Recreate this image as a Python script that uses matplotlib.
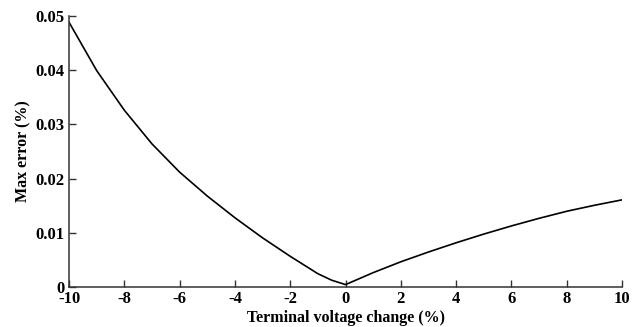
import numpy as np
import matplotlib
matplotlib.use("Agg")
import matplotlib.pyplot as plt

# values
voltage_change = [-10, -9, -8, -7, -6, -5, -4, -3, -2, -1, -0.5, 0, 1, 2, 3, 4, 5, 6, 7, 8, 9, 10]
max_error = [0.0488, 0.0399, 0.0326, 0.0264, 0.0212, 0.0168, 0.0128, 0.0091, 0.0057, 0.0025, 0.0013, 0.0005,
             0.0027, 0.0047, 0.0065, 0.0082, 0.0098, 0.0113, 0.0127, 0.0140, 0.0151, 0.0161]
x_ticks = [-10, -8, -6, -4, -2, 0, 2, 4, 6, 8, 10]
y_ticks = [0, 0.01, 0.02, 0.03, 0.04, 0.05]
y_ticklabels = ["0", "0.01", "0.02", "0.03", "0.04", "0.05"]

plt.rcParams["font.family"] = ["Liberation Serif", "DejaVu Serif"]
plt.rcParams["font.weight"] = "bold"

fig = plt.figure(figsize=(6.42, 3.27), dpi=100)
ax = fig.add_axes([0.1075, 0.1214, 0.8615, 0.8306])
ax.plot(voltage_change, max_error, color="black", lw=1.2)

ax.set_xlim(-10, 10)
ax.set_ylim(0, 0.05)
ax.set_xticks(x_ticks)
ax.set_xticklabels([str(t) for t in x_ticks])
ax.set_yticks(y_ticks)
ax.set_yticklabels(y_ticklabels)
for s in ("top", "right"):
    ax.spines[s].set_visible(False)
for s in ("left", "bottom"):
    ax.spines[s].set_color("#333333")
    ax.spines[s].set_linewidth(1.1)
ax.tick_params(direction="in", length=5, width=1, color="#333333", labelsize=12, pad=3)
for lab in ax.get_xticklabels() + ax.get_yticklabels():
    lab.set_fontweight("bold")
ax.set_xlabel("Terminal voltage change (%)", fontsize=11.5, fontweight="bold", labelpad=2)
ax.set_ylabel("Max error (%)", fontsize=11.5, fontweight="bold", labelpad=3)

fig.savefig("out.png", dpi=100, facecolor="white")
